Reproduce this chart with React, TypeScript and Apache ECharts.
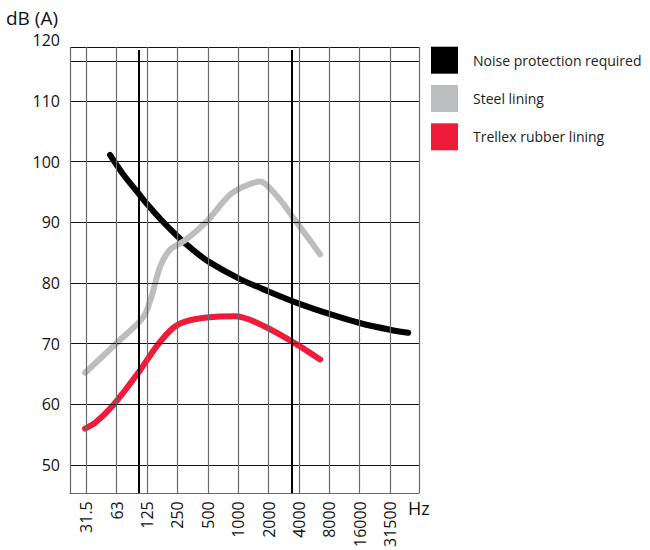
import React, { useEffect, useRef } from "react";
import * as echarts from "echarts";

// Octave band labels (x index 0..10)
const freqLabels = ["31.5", "63", "125", "250", "500", "1000", "2000", "4000", "8000", "16000", "31500"];
const yTickValues = [50, 60, 70, 80, 90, 100, 110, 120];

// Curves: x = octave index, y = dB(A)
const noiseX = [0.78, 1.2, 1.725, 2.0, 2.5, 3.0, 3.5, 4.0, 5.0, 6.0, 7.0, 8.0, 9.0, 10.0, 10.6];
const noiseY = [101.1, 98.0, 94.7, 93.0, 90.2, 87.7, 85.5, 83.6, 80.8, 78.6, 76.6, 74.9, 73.4, 72.3, 71.8];

const steelX = [-0.04, 1.0, 1.75, 1.95, 2.15, 2.43, 2.76, 3.25, 3.96, 4.79, 5.72, 6.38, 6.82, 7.25, 7.7];
const steelY = [65.2, 70.1, 73.6, 75.0, 77.8, 82.7, 85.5, 87.0, 90.1, 94.8, 96.7, 93.7, 90.7, 87.8, 84.7];

const rubberX = [-0.04, 0.3, 0.89, 1.71, 2.32, 2.86, 3.31, 3.96, 4.9, 7.7];
const rubberY = [56.0, 57.0, 59.9, 65.2, 69.6, 72.6, 73.7, 74.3, 74.5, 67.4];

// Frame / reference lines
const xMin = -0.537;
const xMax = 10.955;
const yMin = 45.35;
const yMax = 120;
const boxTop = 118.9;
const hLines = [50, 60, 70, 80, 90, 100, 110, 116.6, 118.9];
const vLines = [-0.537, 0, 1, 2, 3, 4, 5, 6, 7, 8, 9, 10, 10.955];
const thickLines = [1.725, 6.78];
const thickTop = 118.4;

const seriesNames = ["Noise protection required", "Steel lining", "Trellex rubber lining"];
const seriesColors = ["#000000", "#bcbdbf", "#ee1b3a"];

const zip = (xs: number[], ys: number[]) => xs.map((x, i) => [x, ys[i]]);

export default function App() {
  const ref = useRef<HTMLDivElement>(null);
  useEffect(() => {
    if (!ref.current) return;
    const chart = echarts.init(ref.current, undefined, { renderer: "svg" });
    const font = "Open Sans";
    const markData: any[] = [];
    hLines.forEach((v) => markData.push({ yAxis: v, lineStyle: { color: "#111", width: 1, type: "solid" } }));
    vLines.forEach((v) =>
      markData.push([
        { coord: [v, yMin], lineStyle: { color: "#6a6a6a", width: 1.2, type: "solid" } },
        { coord: [v, boxTop] },
      ])
    );
    thickLines.forEach((v) =>
      markData.push([
        { coord: [v, yMin], lineStyle: { color: "#000", width: 2, type: "solid" } },
        { coord: [v, thickTop] },
      ])
    );
    const curves = [zip(noiseX, noiseY), zip(steelX, steelY), zip(rubberX, rubberY)];
    const smooths = [0.35, 0.25, 0.25];
    chart.setOption({
      animation: false,
      textStyle: { fontFamily: font },
      grid: { left: 70, right: 231, top: 40.2, bottom: 56 },
      legend: {
        data: seriesNames,
        orient: "vertical",
        left: 431,
        top: 46.7,
        padding: 0,
        itemWidth: 27,
        itemHeight: 27,
        itemGap: 11.3,
        icon: "rect",
        textStyle: { fontFamily: font, fontSize: 14, color: "#222", padding: [0, 0, 0, 10] },
      },
      graphic: [
        {
          type: "text",
          left: 6,
          top: 8,
          style: { text: "dB (A)", font: "19px 'Open Sans'", fill: "#111" },
        },
        {
          type: "text",
          left: 408,
          top: 499,
          style: { text: "Hz", font: "18px 'Open Sans'", fill: "#111" },
        },
      ],
      xAxis: {
        type: "value",
        min: xMin,
        max: xMax,
        splitLine: { show: false },
        axisLine: { show: true, lineStyle: { color: "#6a6a6a", width: 1.2 } },
        axisTick: { show: false },
        axisLabel: {
          customValues: freqLabels.map((_, i) => i),
          formatter: (v: number) => freqLabels[Math.round(v)] ?? "",
          rotate: 90,
          fontSize: 16,
          color: "#111",
          margin: 8,
          fontFamily: font,
        },
      },
      yAxis: {
        type: "value",
        min: yMin,
        max: yMax,
        splitLine: { show: false },
        axisLine: { show: false },
        axisTick: { show: false },
        axisLabel: {
          customValues: yTickValues,
          fontSize: 16,
          color: "#111",
          margin: 10,
          fontFamily: font,
        },
      },
      series: [
        {
          type: "line",
          name: "__grid",
          data: [],
          z: 1,
          silent: true,
          markLine: {
            silent: true,
            symbol: ["none", "none"],
            label: { show: false },
            animation: false,
            data: markData,
          },
        },
        ...seriesNames.map((name, i) => ({
          type: "line",
          name,
          data: curves[i],
          z: 3,
          showSymbol: false,
          symbol: "none",
          smooth: smooths[i],
          itemStyle: { color: seriesColors[i] },
          lineStyle: { color: seriesColors[i], width: 6, cap: "round", join: "round" },
        })),
      ],
    });
    return () => chart.dispose();
  }, []);
  return (
    <div
      ref={ref}
      style={{ position: "absolute", left: 0, top: 0, width: 650, height: 550, background: "#fff" }}
    />
  );
}
